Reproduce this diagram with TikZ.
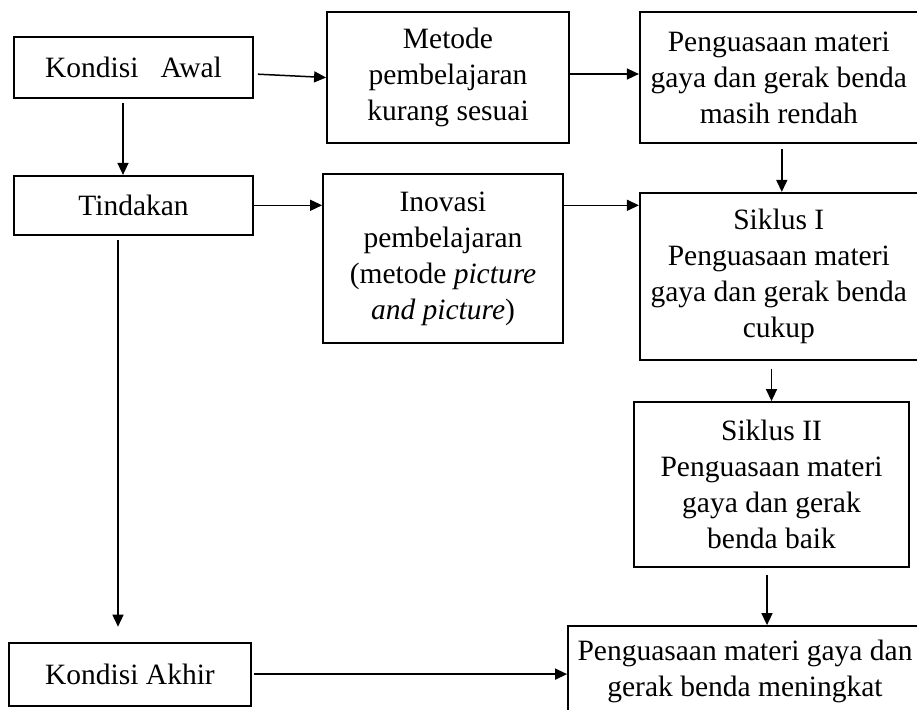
\documentclass[tikz,border=0pt]{standalone}
\usepackage{fontspec}
\setmainfont{Liberation Serif}
\usetikzlibrary{positioning,arrows.meta}

\begin{document}
\begin{tikzpicture}[
x=1pt,y=-1pt,
node distance=48pt and 69pt,
  box/.style={draw,rectangle,line width=1.8pt,inner sep=2pt,align=center,
    font=\fontsize{29.5}{36}\selectfont},
  arr/.style={-{Triangle[length=12pt,width=11pt]},line width=1.5pt}
]
\useasboundingbox (0,0) rectangle (917,709);
\clip (0,0) rectangle (917,709);
\node[box,minimum width=239pt,minimum height=61pt] (KA) at (133.5,67.5) {Kondisi~~~Awal};
\node[box,minimum width=242pt,minimum height=131pt] (MP) at (448,77.5) {Metode\\pembelajaran\\kurang sesuai};
\node[box,minimum width=278pt,minimum height=131pt,right=of MP] (PR) {Penguasaan materi\\gaya dan gerak benda\\masih rendah};
\node[box,minimum width=239pt,minimum height=59pt,below=76pt of KA] (T) {Tindakan};
\node[box,minimum width=240pt,minimum height=169pt] (IN) at (443,258.5) {Inovasi\\pembelajaran\\(metode \textit{picture}\\\textit{and picture})};
\node[box,minimum width=278pt,minimum height=167pt,below=of PR] (S1) {Siklus I\\Penguasaan materi\\gaya dan gerak benda\\cukup};
\node[box,minimum width=275pt,minimum height=165pt] (S2) at (771.5,484.5) {Siklus II\\Penguasaan materi\\gaya dan gerak\\benda baik};
\node[box,minimum width=242pt,minimum height=63pt,below=406pt of T,xshift=-3.5pt] (KAk) {Kondisi Akhir};
\node[box,minimum width=354pt,minimum height=90pt] (PM) at (745,671) {Penguasaan materi gaya dan\\gerak benda meningkat};
\draw[arr,shorten <=4pt] ([yshift=-6.5pt]KA.east) -- (MP.west);
\draw[arr] ([yshift=3.5pt]MP.east) -- ([yshift=3.5pt]PR.west);
\draw[arr,shorten <=4pt] ([xshift=-10.5pt]KA.south) -- ([xshift=-10.5pt]T.north);
\draw[arr] (T.east) -- (T.east -| IN.west);
\draw[arr] (T.east -| IN.east) -- (T.east -| S1.west);
\draw[arr,shorten <=5pt] ([xshift=3pt]PR.south) -- ([xshift=3pt]S1.north);
\draw[arr,shorten <=8pt] (S2.north |- S1.south) -- (S2.north);
\draw[arr,shorten <=7pt] ([xshift=-4.5pt]S2.south) -- ([xshift=-4.5pt]S2.south |- PM.north);
\draw[arr,shorten <=4pt,shorten >=15pt] ([xshift=-15.5pt]T.south) -- ([xshift=-15.5pt]T.south |- KAk.north);
\draw[arr,shorten <=2pt] (KAk.east) -- (KAk.east -| PM.west);
\end{tikzpicture}
\end{document}
